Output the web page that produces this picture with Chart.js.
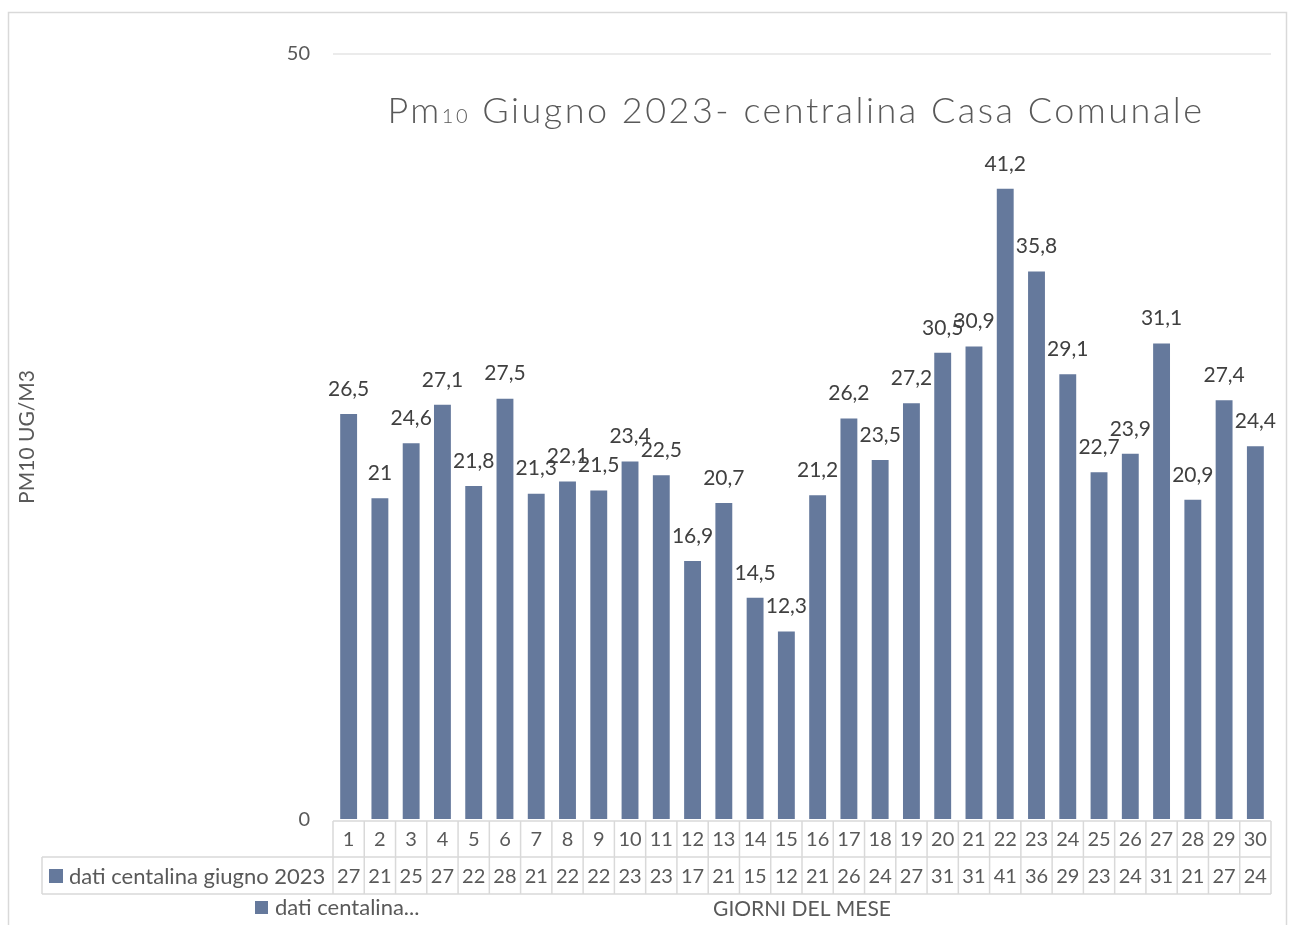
<!DOCTYPE html>
<html>
<head>
<meta charset="utf-8">
<script src="https://cdn.jsdelivr.net/npm/chart.js@4/dist/chart.umd.min.js"></script>
<style>
  html, body { margin: 0; padding: 0; background: #ffffff; }
  #wrap { position: relative; width: 1295px; height: 925px; }
  canvas { display: block; }
</style>
</head>
<body>
<div id="wrap"><canvas id="c" width="1295" height="925"></canvas></div>
<script>
// ---- data ----
const days = ['1','2','3','4','5','6','7','8','9','10','11','12','13','14','15','16','17','18','19','20','21','22','23','24','25','26','27','28','29','30'];
const pm10Values = [26.5, 21, 24.6, 27.1, 21.8, 27.5, 21.3, 22.1, 21.5, 23.4, 22.5, 16.9, 20.7, 14.5, 12.3, 21.2, 26.2, 23.5, 27.2, 30.5, 30.9, 41.2, 35.8, 29.1, 22.7, 23.9, 31.1, 20.9, 27.4, 24.4];
const yTicks = [0, 50];
const seriesLabel = 'dati centalina giugno 2023';
const legendLabel = 'dati centalina...';
const titleParts = ['Pm', '10', ' Giugno 2023- centralina Casa Comunale'];
const yTitle = 'PM10 UG/M3';
const xTitle = 'GIORNI DEL MESE';

const FONT = 'Lato, "Open Sans", sans-serif';
const BAR_COLOR = '#65799c';
const TEXT = '#595959';
const LINE = '#d9d9d9';

function fmt(v) { return String(v).replace('.', ','); }

const decorPlugin = {
  id: 'decor',
  beforeDraw(chart) {
    const ctx = chart.ctx;
    ctx.save();
    ctx.strokeStyle = LINE;
    ctx.lineWidth = 1.5;
    ctx.strokeRect(8.5, 12.5, 1278, 940);
    ctx.restore();
  },
  afterDatasetsDraw(chart) {
    const ctx = chart.ctx;
    const meta = chart.getDatasetMeta(0);
    ctx.save();
    ctx.font = '21px ' + FONT;
    ctx.fillStyle = '#404040';
    ctx.textAlign = 'center';
    ctx.textBaseline = 'middle';
    meta.data.forEach((bar, i) => {
      ctx.fillText(fmt(pm10Values[i]), bar.x, bar.y - 25);
    });
    ctx.restore();
  },
  afterDraw(chart) {
    const ctx = chart.ctx;
    const xs = chart.scales.x;
    const area = chart.chartArea;
    const n = days.length;
    const cw = (area.right - area.left) / n;
    const top = area.bottom + 1;
    const mid = 857;
    const bot = 894;
    const tableLeft = 42;
    ctx.save();
    // table lines
    ctx.strokeStyle = LINE;
    ctx.lineWidth = 1.5;
    ctx.beginPath();
    ctx.moveTo(area.left, top); ctx.lineTo(area.right, top);
    ctx.moveTo(tableLeft, mid); ctx.lineTo(area.right, mid);
    ctx.moveTo(tableLeft, bot); ctx.lineTo(area.right, bot);
    ctx.moveTo(tableLeft, mid); ctx.lineTo(tableLeft, bot);
    for (let i = 0; i <= n; i++) {
      const x = area.left + i * cw;
      ctx.moveTo(x, top); ctx.lineTo(x, bot);
    }
    ctx.stroke();
    // header + values
    ctx.fillStyle = TEXT;
    ctx.font = '20px ' + FONT;
    ctx.textAlign = 'center';
    ctx.textBaseline = 'middle';
    days.forEach((d, i) => {
      const x = xs.getPixelForValue(i);
      ctx.fillText(d, x, (top + mid) / 2 + 1);
      ctx.fillText(String(Math.round(pm10Values[i])), x, (mid + bot) / 2 + 1);
    });
    // row label
    ctx.fillStyle = BAR_COLOR;
    ctx.fillRect(49, 869, 14, 14);
    ctx.fillStyle = TEXT;
    ctx.textAlign = 'left';
    ctx.font = '22px ' + FONT;
    ctx.fillText(seriesLabel, 69, (mid + bot) / 2 + 1);
    // legend
    ctx.fillStyle = BAR_COLOR;
    ctx.fillRect(255, 901, 13, 13);
    ctx.fillStyle = TEXT;
    ctx.font = '22px ' + FONT;
    ctx.fillText(legendLabel, 275, 908);
    // title
    ctx.letterSpacing = '2.5px';
    const big = '300 36px ' + FONT;
    const small = '300 20px ' + FONT;
    ctx.font = big; const w0 = ctx.measureText(titleParts[0]).width;
    const w2 = ctx.measureText(titleParts[2]).width;
    ctx.font = small; const w1 = ctx.measureText(titleParts[1]).width;
    const total = w0 + w1 + w2;
    let x = 796 - total / 2;
    const base = 123;
    ctx.fillStyle = TEXT;
    ctx.textBaseline = 'alphabetic';
    ctx.font = big; ctx.fillText(titleParts[0], x, base); x += w0;
    ctx.font = small; ctx.fillText(titleParts[1], x, base); x += w1;
    ctx.font = big; ctx.fillText(titleParts[2], x, base);
    ctx.restore();
  }
};

new Chart(document.getElementById('c'), {
  type: 'bar',
  data: {
    labels: days,
    datasets: [{
      label: seriesLabel,
      data: pm10Values,
      backgroundColor: BAR_COLOR,
      borderWidth: 0,
      barPercentage: 0.54,
      categoryPercentage: 1
    }]
  },
  options: {
    responsive: false,
    animation: false,
    devicePixelRatio: 1,
    layout: { padding: { left: 8, right: 24, top: 54, bottom: 0 } },
    plugins: {
      legend: { display: false },
      title: { display: false },
      tooltip: { enabled: false }
    },
    scales: {
      x: {
        grid: { display: false },
        border: { display: false },
        ticks: { display: false },
        title: {
          display: true,
          text: xTitle,
          color: TEXT,
          font: { family: FONT, size: 21 },
          padding: { top: 0, bottom: 3 }
        },
        afterFit(scale) { scale.height = 105; }
      },
      y: {
        min: 0,
        max: 50,
        afterBuildTicks(scale) { scale.ticks = yTicks.map(v => ({ value: v })); },
        grid: {
          drawTicks: false,
          color: ctx => ctx.tick && ctx.tick.value === 50 ? '#ebebeb' : 'rgba(0,0,0,0)',
          lineWidth: 2
        },
        border: { display: false },
        ticks: {
          padding: 23,
          color: TEXT,
          font: { family: FONT, size: 20 }
        },
        title: {
          display: true,
          text: yTitle,
          color: TEXT,
          font: { family: FONT, size: 21 },
          padding: { top: 7, bottom: 0 }
        },
        afterFit(scale) { scale.width = 325; }
      }
    }
  },
  plugins: [decorPlugin]
});
</script>
</body>
</html>
